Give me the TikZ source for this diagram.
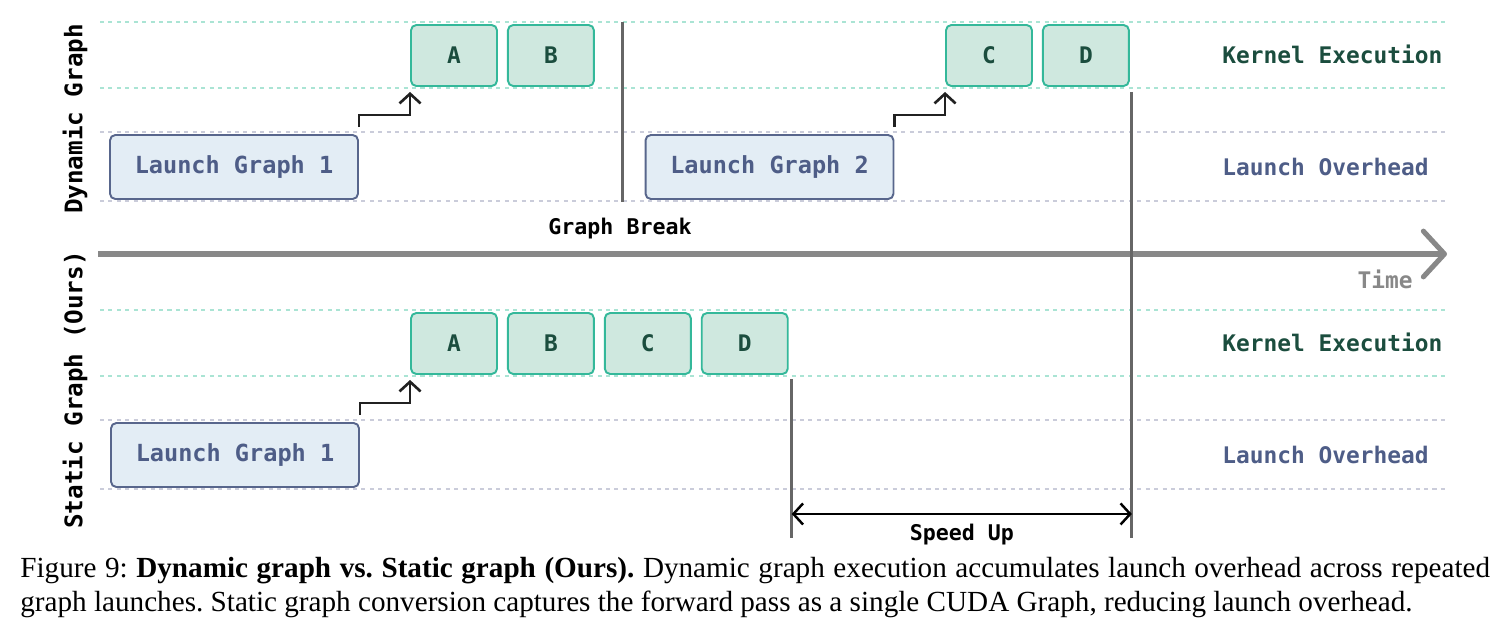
\documentclass[tikz,border=0pt]{standalone}
\usepackage{fontspec}
\usetikzlibrary{positioning, calc, arrows.meta}
\newfontfamily\gmono{DejaVu Sans Mono}
\newfontfamily\capfont{Liberation Serif}
\definecolor{kernel_fill}{RGB}{207, 232, 223}
\definecolor{kernel_edge}{RGB}{52, 184, 154}
\definecolor{kernel_text}{RGB}{27, 77, 62}
\definecolor{launch_fill}{RGB}{227, 237, 245}
\definecolor{launch_edge}{RGB}{88, 102, 140}
\definecolor{launch_text}{RGB}{78, 93, 135}
\definecolor{lane_green}{RGB}{170, 228, 212}
\definecolor{lane_gray}{RGB}{202, 204, 218}
\definecolor{stop_gray}{RGB}{102, 102, 102}
\definecolor{axis_gray}{RGB}{136, 136, 136}
\tikzset {
  kernel/.style = {draw=kernel_edge, line width=1.1pt, fill=kernel_fill, rounded corners=3pt, rectangle, minimum width=1.72cm, minimum height=1.22cm, inner sep=0pt, text=kernel_text, font=\gmono\bfseries\fontsize{13}{15}\selectfont},
  launch/.style = {draw=launch_edge, line width=1.1pt, fill=launch_fill, rounded corners=3pt, rectangle, minimum width=4.96cm, minimum height=1.28cm, inner sep=0pt, text=launch_text, font=\gmono\bfseries\fontsize{13.4}{15}\selectfont},
  lanetext/.style = {anchor=west, inner sep=0pt, font=\gmono\bfseries\fontsize{13}{15}\selectfont},
  note/.style = {inner sep=0pt, font=\gmono\bfseries\fontsize{12.3}{14}\selectfont},
  side/.style = {rotate=90, inner sep=0pt, font=\gmono\bfseries\fontsize{13.8}{16}\selectfont},
  lane_kernel/.style = {draw=lane_green, line width=1.5pt, dash pattern=on 2.3pt off 2.5pt},
  lane_launch/.style = {draw=lane_gray, line width=1.5pt, dash pattern=on 2.3pt off 2.5pt},
  stopline/.style = {draw=stop_gray, line width=1.7pt},
  timeaxis/.style = {draw=axis_gray, line width=2.9pt, -{Straight Barb[length=12pt, width=26pt, round]}},
  kick/.style = {draw=black!87, line width=1.5pt, -{Straight Barb[length=5.5pt, width=12pt]}},
  span/.style = {draw=black, line width=1.4pt, {Straight Barb[length=5.5pt, width=12pt]}-{Straight Barb[length=5.5pt, width=12pt]}},
  capnode/.style = {anchor=north west, inner sep=0pt, text width=29.4cm, align=justify, font=\capfont\fontsize{16.6}{19.3}\selectfont}
}

\begin{document}
\begin{tikzpicture}[x=0.02cm, y=-0.02cm, node distance=0.18cm]
  \useasboundingbox (0,0) rectangle (1510,637);

  % lanes, dynamic on top, static below
  \foreach \dy in {0,288} {
    \draw[lane_kernel] (100,22+\dy) -- (1445,22+\dy);
    \draw[lane_kernel] (100,88+\dy) -- (1445,88+\dy);
    \draw[lane_launch] (100,132+\dy) -- (1445,132+\dy);
    \draw[lane_launch] (100,201+\dy) -- (1445,201+\dy);
  }

  % dynamic graph
  \node[launch] (dL1) at (234,167) {Launch Graph 1};
  \node[kernel] (dA) at (454,55.5) {A};
  \node[kernel, right=of dA] (dB) {B};
  \node[launch] (dL2) at (769.5,167) {Launch Graph 2};
  \node[kernel] (dC) at (989,55.5) {C};
  \node[kernel, right=of dC] (dD) {D};

  \draw[kick] ($(dL1.north east)+(0,-7)$) |- ($(dA.south west)+(0,28)$) -- ($(dA.south west)+(0,5)$);
  \draw[kick] ($(dL2.north east)+(0,-7)$) |- ($(dC.south west)+(0,28)$) -- ($(dC.south west)+(0,5)$);

  \coordinate (brkTop) at (622,22);
  \coordinate (brkBot) at (622,202);
  \draw[stopline] (brkTop) -- (brkBot);
  \node[note] (brk) at (620,229) {Graph Break};

  \node[lanetext, text=kernel_text] (dKern) at (1222,54) {Kernel Execution};
  \node[lanetext, text=launch_text] (dOver) at (1222,167) {Launch Overhead};

  % static graph
  \node[launch] (sL1) at (235,455) {Launch Graph 1};
  \node[kernel] (sA) at (454,343.5) {A};
  \node[kernel, right=of sA] (sB) {B};
  \node[kernel, right=of sB] (sC) {C};
  \node[kernel, right=of sC] (sD) {D};

  \draw[kick] ($(sL1.north east)+(0,-7)$) |- ($(sA.south west)+(0,28)$) -- ($(sA.south west)+(0,5)$);

  \node[lanetext, text=kernel_text] (sKern) at (1222,342) {Kernel Execution};
  \node[lanetext, text=launch_text] (sOver) at (1222,455) {Launch Overhead};

  % time axis
  \coordinate (t0) at (98,254);
  \coordinate (t1) at (1447,254);
  \draw[timeaxis] (t0) -- (t1);
  \node[note, text=axis_gray, font=\gmono\bfseries\fontsize{13}{15}\selectfont] (time) at (1385,279) {Time};

  \node[side] (dSide) at (75,119) {Dynamic Graph};
  \node[side] (sSide) at (75,390) {Static Graph (Ours)};

  % speed up
  \coordinate (sStop) at ($(sD.south east)+(3,163)$);
  \coordinate (dStop) at ($(dD.south east)+(2,451)$);
  \draw[stopline] ($(sD.south east)+(3,4)$) -- (sStop);
  \draw[stopline] ($(dD.south east)+(2,5)$) -- (dStop);
  \draw[span] ($(sStop)+(0,-24)$) -- node[note, below=5pt] (speed) {Speed Up} ($(dStop)+(0,-24)$);

  \node[capnode] (caption) at (20,557) {\frenchspacing Figure 9: \textbf{Dynamic graph vs. Static graph (Ours).} Dynamic graph execution accumulates launch overhead across repeated\linebreak graph launches. Static graph conversion captures the forward pass as a single CUDA Graph, reducing launch overhead.};
\end{tikzpicture}
\end{document}
